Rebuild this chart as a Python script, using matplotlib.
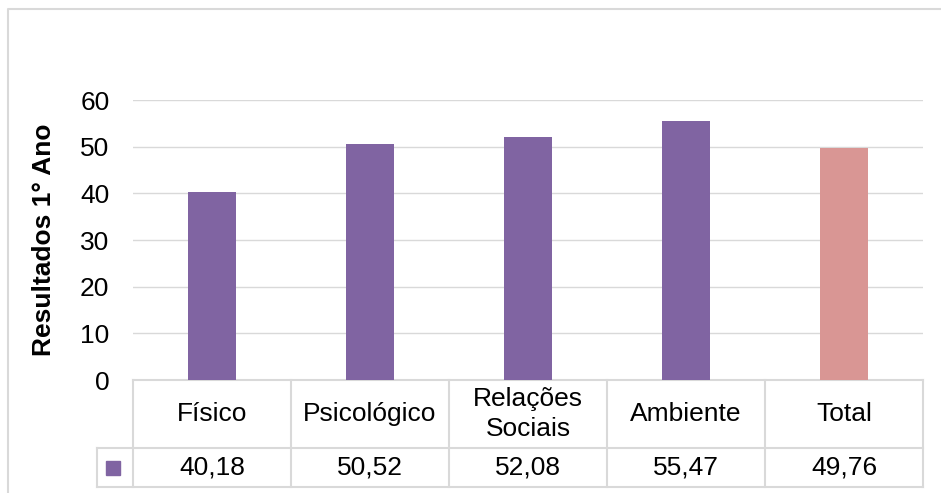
import matplotlib.pyplot as plt
from matplotlib.lines import Line2D
from matplotlib.transforms import blended_transform_factory

categorias = ['Físico', 'Psicológico', 'Relações\nSociais', 'Ambiente', 'Total']
valores = [40.18, 50.52, 52.08, 55.47, 49.76]
cores = ['#8064A2', '#8064A2', '#8064A2', '#8064A2', '#D99694']
yticks = [0, 10, 20, 30, 40, 50, 60]

W, H = 941, 493
cinza = '#D9D9D9'
fs = 19
plt.rcParams['font.family'] = ['Liberation Sans', 'DejaVu Sans']

fig = plt.figure(figsize=(W / 100, H / 100), dpi=100)

def fy(py):
    # pixel (de cima) -> fração da figura
    return 1 - py / H

# moldura externa do gráfico
fig.add_artist(Line2D([8 / W, 8 / W, 1], [0, fy(9), fy(9)], color=cinza, lw=1.5))

ax = fig.add_axes([133 / W, fy(380), (923 - 133) / W, (380 - 100) / H])
x = range(len(valores))
ax.bar(x, valores, width=0.31, color=cores, zorder=3)
ax.set_xlim(-0.5, len(valores) - 0.5)
ax.set_ylim(0, 60)
ax.set_yticks(yticks)
ax.tick_params(axis='y', length=0, pad=17, labelsize=fs)
ax.set_xticks([])
ax.grid(axis='y', color=cinza, lw=1, zorder=0)
for s in ax.spines.values():
    s.set_visible(False)
ax.set_ylabel('Resultados 1° Ano', fontsize=fs, fontweight='bold')
ax.yaxis.set_label_coords((56 - 133) / 790, 0.5)

# tabela de dados abaixo do eixo
tr = blended_transform_factory(ax.transData, fig.transFigure)
n = len(valores)
topo, meio, base = fy(380), fy(448), fy(487)
esq = -0.5 - 36 / 158
kw = dict(color=cinza, lw=1.5, transform=tr, clip_on=False)
ax.add_artist(Line2D([-0.5, n - 0.5], [topo, topo], **kw))
ax.add_artist(Line2D([esq, n - 0.5], [meio, meio], **kw))
ax.add_artist(Line2D([esq, n - 0.5], [base, base], **kw))
ax.add_artist(Line2D([esq, esq], [meio, base], **kw))
for i in range(n + 1):
    ax.add_artist(Line2D([i - 0.5, i - 0.5], [topo, base], **kw))

for i, (cat, v) in enumerate(zip(categorias, valores)):
    ax.text(i, (topo + meio) / 2, cat, transform=tr, ha='center', va='center',
            fontsize=fs, linespacing=1.3)
    ax.text(i, (meio + base) / 2, f'{v:.2f}'.replace('.', ','), transform=tr,
            ha='center', va='center', fontsize=fs)

# marcador da legenda
ax.add_artist(Line2D([(esq - 0.5) / 2 - 0.01], [(meio + base) / 2], marker='s', markersize=9.5,
                     color='#8064A2', lw=0, transform=tr, clip_on=False))

fig.savefig('out.png', dpi=100)
